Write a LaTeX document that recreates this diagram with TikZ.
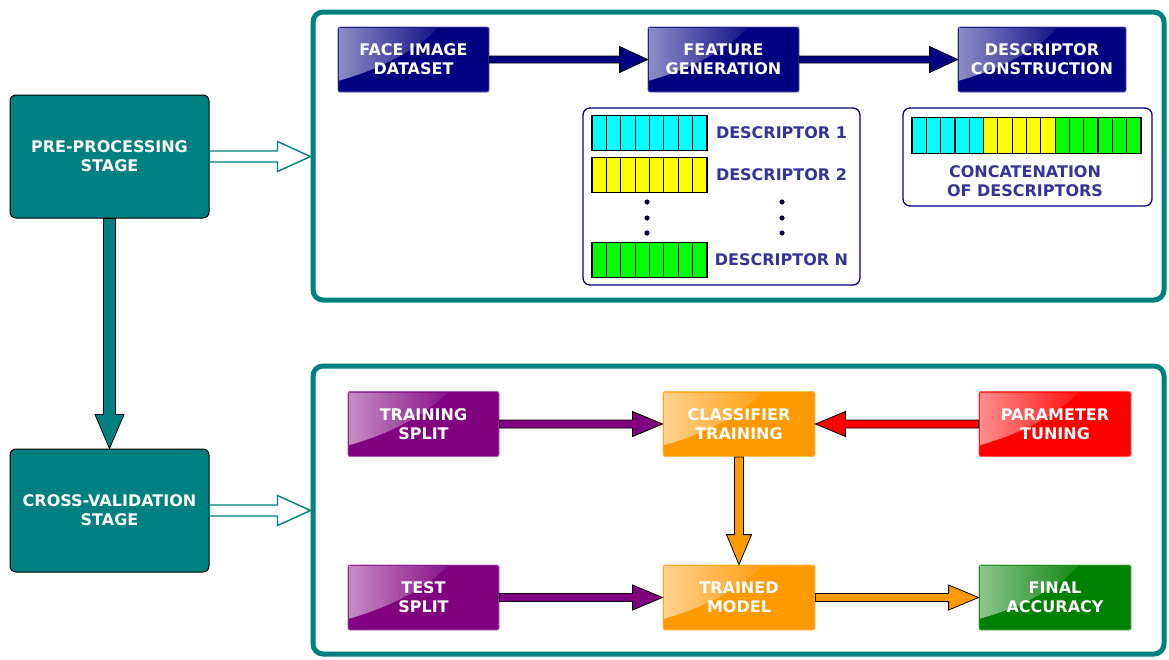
\documentclass[tikz,border=0pt]{standalone}
\usepackage{fontspec}
\setmainfont{DejaVu Sans}
\usetikzlibrary{calc,fadings}
\definecolor{navyc}{RGB}{0,0,128}
\definecolor{tealc}{RGB}{0,128,128}
\definecolor{purplec}{RGB}{128,0,128}
\definecolor{orangec}{RGB}{255,153,0}
\definecolor{redc}{RGB}{255,0,0}
\definecolor{greenc}{RGB}{0,128,0}
\definecolor{cyanc}{RGB}{0,255,255}
\definecolor{yellowc}{RGB}{255,255,0}
\definecolor{limec}{RGB}{0,255,0}
\definecolor{labelc}{RGB}{51,51,153}
\tikzfading[name=glossfade, left color=transparent!45, right color=transparent!93]
\newcommand\fatarrow[6]{%
  \coordinate (fa-A) at (#2);
  \coordinate (fa-B) at (#3);
  \coordinate (fa-C) at ($(fa-B)!#5!(fa-A)$);
  \filldraw[#1] ($(fa-A)!#4!90:(fa-B)$) -- ($(fa-C)!#4!-90:(fa-A)$) -- ($(fa-C)!#6!-90:(fa-A)$)
    -- (fa-B) -- ($(fa-C)!#6!90:(fa-A)$) -- ($(fa-C)!#4!90:(fa-A)$) -- ($(fa-A)!#4!-90:(fa-B)$) -- cycle;
}
\newcommand\glossy[1]{%
  \fill[white, path fading=glossfade]
    ($(#1.north west)+(1.5,1.5)$) -- ($(#1.north west)+(100,1.5)$)
    .. controls ($(#1.north west)+(80,22)$) and ($(#1.north west)+(45,42)$) ..
    ($(#1.north west)+(1.5,54)$) -- cycle;
}
\tikzset{
  stepbox/.style={rectangle, rounded corners=2pt, minimum height=65pt, minimum width=151pt,
    text=white, align=center, inner sep=0pt, fill=#1, draw=#1!65!white, line width=0.8pt},
  stagebox/.style={rectangle, rounded corners=6pt, minimum width=199pt, minimum height=123pt,
    fill=tealc, draw=black, line width=1pt, text=white, align=center},
  framebox/.style={rectangle, rounded corners=10pt, draw=tealc, line width=5pt,
    minimum width=851pt, minimum height=288pt},
  groupbox/.style={draw=navyc, line width=1.3pt, rounded corners=7pt, fill=white},
  cell/.style={draw=black, line width=1.2pt},
  desclabel/.style={text=labelc, align=center, inner sep=0pt},
  steptext/.style={text=white, align=center, inner sep=0pt},
  arr/.style={fill=#1, draw=black, line width=0.8pt, line join=miter},
  openarr/.style={fill=white, draw=tealc, line width=1.4pt, line join=miter}
}
\begin{document}
\begin{tikzpicture}[x=1pt, y=-1pt, font=\bfseries\fontsize{16}{19}\selectfont]
\useasboundingbox (0,0) rectangle (1169,659);

% frames
\node[framebox] (topf) at (738.5,156) {};
\node[framebox] (botf) at (738.5,510) {};

% stage boxes
\node[stagebox] (pre) at (109.5,156.5) {PRE-PROCESSING\\STAGE};
\node[stagebox] (cv) at (109.5,510.5) {CROSS-VALIDATION\\STAGE};

\fatarrow{arr=tealc}{pre.south}{cv.north}{6pt}{34pt}{14.5pt}
\fatarrow{openarr}{pre.east}{pre.east -| topf.west}{5.5pt}{33pt}{15pt}
\fatarrow{openarr}{cv.east}{cv.east -| botf.west}{5.5pt}{33pt}{15pt}

% top row
\node[stepbox=navyc] (fid) at (413.5,59.5) {};
\node[stepbox=navyc] (fg) at (723.5,59.5) {};
\node[stepbox=navyc, minimum width=168pt] (dc) at (1042,59.5) {};
\foreach \n in {fid,fg,dc} {\glossy{\n}}
\node[steptext] at (fid) {FACE IMAGE\\DATASET};
\node[steptext] at (fg) {FEATURE\\GENERATION};
\node[steptext] at (dc) {DESCRIPTOR\\CONSTRUCTION};
\fatarrow{arr=navyc}{fid.east}{fg.west}{3.5pt}{28pt}{13pt}
\fatarrow{arr=navyc}{fg.east}{dc.west}{3.5pt}{28pt}{13pt}

% descriptors group
\draw[groupbox] (583,108) rectangle (860,285);
\foreach \i in {0,...,7} {
  \filldraw[cell, fill=cyanc] ({592+\i*14.375},115.5) rectangle ++(14.375,35);
  \filldraw[cell, fill=yellowc] ({592+\i*14.375},157.5) rectangle ++(14.375,35);
  \filldraw[cell, fill=limec] ({592+\i*14.375},242.5) rectangle ++(14.375,35);
}
\node[desclabel] (d1) at (781.5,133) {DESCRIPTOR 1};
\node[desclabel] (d2) at (781.5,175) {DESCRIPTOR 2};
\node[desclabel] (dn) at (781.5,260) {DESCRIPTOR N};
\foreach \yy in {202,218,233} {
  \fill[navyc!50!black] (647,\yy) circle (2.6);
  \fill[navyc!50!black] (782,\yy) circle (2.6);
}

% concatenation group
\draw[groupbox] (903,108) rectangle (1152,206);
\foreach \i in {0,...,15} {
  \pgfmathsetmacro\cc{\i<5 ? "cyanc" : (\i<10 ? "yellowc" : "limec")}
  \filldraw[cell, fill=\cc] ({912+\i*14.3125},117.5) rectangle ++(14.3125,36);
}
\node[desclabel] (cat) at (1025,181) {CONCATENATION\\OF DESCRIPTORS};

% bottom rows
\node[stepbox=purplec] (ts) at (423.5,424) {};
\node[stepbox=orangec, minimum width=152pt] (ct) at (739,424) {};
\node[stepbox=redc, minimum width=152pt] (pt) at (1055,424) {};
\node[stepbox=purplec] (tes) at (423.5,597.5) {};
\node[stepbox=orangec, minimum width=152pt] (tm) at (739,597.5) {};
\node[stepbox=greenc, minimum width=152pt] (fa) at (1055,597.5) {};
\foreach \n in {ts,ct,pt,tes,tm,fa} {\glossy{\n}}
\node[steptext] at (ts) {TRAINING\\SPLIT};
\node[steptext] at (ct) {CLASSIFIER\\TRAINING};
\node[steptext] at (pt) {PARAMETER\\TUNING};
\node[steptext] at (tes) {TEST\\SPLIT};
\node[steptext] at (tm) {TRAINED\\MODEL};
\node[steptext] at (fa) {FINAL\\ACCURACY};

\fatarrow{arr=purplec}{ts.east}{ct.west}{4pt}{30pt}{12.5pt}
\fatarrow{arr=redc}{pt.west}{ct.east}{4pt}{30pt}{12.5pt}
\fatarrow{arr=orangec}{ct.south}{tm.north}{4.5pt}{30pt}{12.5pt}
\fatarrow{arr=purplec}{tes.east}{tm.west}{4pt}{30pt}{12.5pt}
\fatarrow{arr=orangec}{tm.east}{fa.west}{4pt}{30pt}{12.5pt}
\end{tikzpicture}
\end{document}
